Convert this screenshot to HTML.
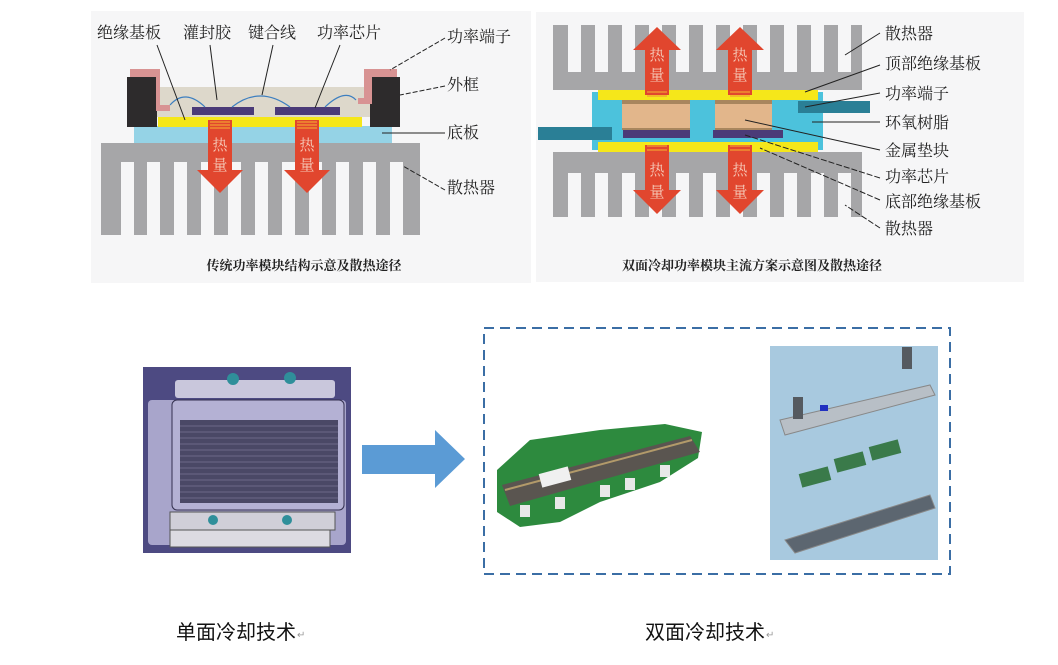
<!DOCTYPE html>
<html><head><meta charset="utf-8"><style>
html,body{margin:0;padding:0;background:#fff;}
svg{display:block;}
text{font-family:"Liberation Serif","Noto Serif CJK SC",serif;}
.s{font-family:"Liberation Sans","Noto Sans CJK SC",sans-serif;}
</style></head><body>
<svg width="1058" height="665" viewBox="0 0 1058 665" xmlns="http://www.w3.org/2000/svg">
<rect width="1058" height="665" fill="#fff"/>
<!-- LEFT PANEL -->
<rect x="91" y="11" width="440" height="272" fill="#f6f6f7"/>
<!-- heatsink -->
<rect x="101" y="143" width="319" height="92" fill="#a6a6a8"/>
<g fill="#f6f6f7">
<rect x="121" y="162" width="13" height="73"/><rect x="147" y="162" width="13" height="73"/><rect x="174" y="162" width="13" height="73"/><rect x="201" y="162" width="13" height="73"/><rect x="228" y="162" width="13" height="73"/><rect x="255" y="162" width="13" height="73"/><rect x="282" y="162" width="13" height="73"/><rect x="309" y="162" width="13" height="73"/><rect x="336" y="162" width="13" height="73"/><rect x="363" y="162" width="13" height="73"/><rect x="390" y="162" width="13" height="73"/>
</g>
<rect x="134" y="126" width="258" height="17" fill="#95d3e6"/>
<rect x="156" y="87" width="216" height="30" fill="#ddd8cb"/>
<rect x="158" y="117" width="204" height="10" fill="#f5e71a"/>
<rect x="127" y="77" width="30" height="50" fill="#2d2b2c"/>
<rect x="370" y="77" width="30" height="50" fill="#2d2b2c"/>
<path d="M130 69 H160 V105 H170 V111 H156 V77 H130Z" fill="#d89393"/>
<path d="M364 69 H397 V77 H372 V104 H358 V98 H364Z" fill="#d89393"/>
<rect x="192" y="107" width="62" height="8" fill="#4b3b78"/>
<rect x="275" y="107" width="65" height="8" fill="#4b3b78"/>
<g fill="none" stroke="#3d7fc0" stroke-width="1.2">
<path d="M170 105 Q185 88 205 107"/><path d="M232 107 Q260 85 290 107"/><path d="M325 107 Q345 88 356 100"/>
</g>
<!-- arrows -->
<g fill="#e1462e">
<path d="M208 120 H232 V170 H243 L220 193 L197 170 H208Z"/>
<path d="M295 120 H319 V170 H330 L307 193 L284 170 H295Z"/>
</g>
<g stroke="#f2a030" stroke-width="1.3"><path d="M210 122H230M210 125H230M210 128H230M297 122H317M297 125H317M297 128H317"/></g>
<g fill="#f5c9b8" font-size="15" text-anchor="middle"><text x="220" y="150">热</text><text x="220" y="170">量</text><text x="307" y="150">热</text><text x="307" y="170">量</text></g>
<g stroke="#222" stroke-width="1" fill="none">
<path d="M157 45 L185 120"/><path d="M210 45 L217 100"/><path d="M273 45 L262 95"/><path d="M340 45 L315 108"/>
<path d="M445 38 L390 70" stroke-dasharray="5 2"/><path d="M445 86 L400 95" stroke-dasharray="5 2"/><path d="M445 133 H382"/><path d="M445 190 L403 166" stroke-dasharray="5 2"/>
</g>
<g font-size="16" fill="#222">
<text x="97" y="38">绝缘基板</text><text x="183" y="38">灌封胶</text><text x="248" y="38">键合线</text><text x="317" y="38">功率芯片</text>
<text x="447" y="42">功率端子</text><text x="447" y="90">外框</text><text x="447" y="138">底板</text><text x="447" y="193">散热器</text>
</g>
<text x="304" y="270" font-size="13" font-weight="bold" text-anchor="middle" fill="#222">传统功率模块结构示意及散热途径</text>

<!-- RIGHT PANEL -->
<rect x="536" y="12" width="488" height="270" fill="#f6f6f7"/>
<rect x="553" y="25" width="309" height="65" fill="#a6a6a8"/>
<rect x="553" y="152" width="309" height="65" fill="#a6a6a8"/>
<g fill="#f6f6f7">
<rect x="568" y="25" width="13" height="47"/><rect x="595" y="25" width="13" height="47"/><rect x="622" y="25" width="13" height="47"/><rect x="649" y="25" width="13" height="47"/><rect x="676" y="25" width="13" height="47"/><rect x="703" y="25" width="13" height="47"/><rect x="730" y="25" width="13" height="47"/><rect x="757" y="25" width="13" height="47"/><rect x="784" y="25" width="13" height="47"/><rect x="811" y="25" width="13" height="47"/><rect x="838" y="25" width="13" height="47"/>
<rect x="568" y="173" width="13" height="44"/><rect x="595" y="173" width="13" height="44"/><rect x="622" y="173" width="13" height="44"/><rect x="649" y="173" width="13" height="44"/><rect x="676" y="173" width="13" height="44"/><rect x="703" y="173" width="13" height="44"/><rect x="730" y="173" width="13" height="44"/><rect x="757" y="173" width="13" height="44"/><rect x="784" y="173" width="13" height="44"/><rect x="811" y="173" width="13" height="44"/><rect x="838" y="173" width="13" height="44"/>
</g>
<rect x="592" y="92" width="231" height="58" fill="#4cc2dc"/>
<rect x="598" y="90" width="220" height="10" fill="#f5e71a"/>
<rect x="598" y="142" width="220" height="10" fill="#f5e71a"/>
<rect x="622" y="100" width="68" height="4" fill="#a8865e"/><rect x="715" y="100" width="57" height="4" fill="#a8865e"/>
<rect x="622" y="104" width="68" height="24" fill="#e2b68b"/><rect x="715" y="104" width="57" height="24" fill="#e2b68b"/>
<rect x="622" y="128" width="68" height="2" fill="#a8865e"/><rect x="715" y="128" width="57" height="2" fill="#a8865e"/>
<rect x="623" y="130" width="67" height="8" fill="#4b3b78"/><rect x="713" y="130" width="70" height="8" fill="#4b3b78"/>
<rect x="538" y="127" width="74" height="13" fill="#2a7f96"/>
<rect x="798" y="101" width="72" height="12" fill="#2a7f96"/>
<g fill="#e1462e">
<path d="M645 95 H669 V50 H681 L657 27 L633 50 H645Z"/>
<path d="M728 95 H752 V50 H764 L740 27 L716 50 H728Z"/>
<path d="M645 145 H669 V190 H681 L657 214 L633 190 H645Z"/>
<path d="M728 145 H752 V190 H764 L740 214 L716 190 H728Z"/>
</g>
<g stroke="#f2a030" stroke-width="1.3"><path d="M647 92H667M647 96H667M730 92H750M730 96H750M647 146H667M647 150H667M730 146H750M730 150H750"/></g>
<g fill="#f5c9b8" font-size="15" text-anchor="middle"><text x="657" y="60">热</text><text x="657" y="80">量</text><text x="740" y="60">热</text><text x="740" y="80">量</text><text x="657" y="175">热</text><text x="657" y="197">量</text><text x="740" y="175">热</text><text x="740" y="197">量</text></g>
<g stroke="#222" stroke-width="1" fill="none">
<path d="M880 33 L845 55"/><path d="M880 65 L805 92"/><path d="M880 93 L805 107"/><path d="M880 122 H812"/><path d="M880 150 L745 120"/>
<path d="M880 178 L745 135" stroke-dasharray="6 2"/><path d="M880 200 L760 148" stroke-dasharray="6 2"/><path d="M880 228 L845 205" stroke-dasharray="6 2"/>
</g>
<g font-size="16" fill="#222">
<text x="885" y="39">散热器</text><text x="885" y="69">顶部绝缘基板</text><text x="885" y="99">功率端子</text><text x="885" y="128">环氧树脂</text><text x="885" y="156">金属垫块</text><text x="885" y="182">功率芯片</text><text x="885" y="207">底部绝缘基板</text><text x="885" y="234">散热器</text>
</g>
<text x="752" y="270" font-size="13" font-weight="bold" text-anchor="middle" fill="#222">双面冷却功率模块主流方案示意图及散热途径</text>

<!-- BOTTOM LEFT IMAGE -->
<rect x="143" y="367" width="208" height="186" fill="#4d4a82"/>
<rect x="148" y="400" width="198" height="145" fill="#a8a5cb" rx="4"/>
<rect x="175" y="380" width="160" height="18" fill="#c9c7dc" rx="3"/>
<circle cx="233" cy="379" r="6" fill="#2f8f9a"/><circle cx="290" cy="378" r="6" fill="#2f8f9a"/>
<rect x="172" y="400" width="172" height="110" fill="#b4b1d4" stroke="#33304f" rx="5"/>
<rect x="180" y="420" width="158" height="83" fill="#4a4866"/>
<g stroke="#8a88a8" stroke-width="0.8" opacity="0.7">
<path d="M180 426H338M180 432H338M180 438H338M180 444H338M180 450H338M180 456H338M180 462H338M180 468H338M180 474H338M180 480H338M180 486H338M180 492H338M180 498H338"/>
</g>
<rect x="170" y="512" width="165" height="18" fill="#d0cfd8" stroke="#555"/>
<rect x="170" y="530" width="160" height="17" fill="#dcdbe2" stroke="#555"/>
<circle cx="213" cy="520" r="5" fill="#2f8f9a"/><circle cx="287" cy="520" r="5" fill="#2f8f9a"/>
<!-- arrow -->
<path d="M362 445 H435 V430 L465 459 L435 488 V474 H362Z" fill="#5b9bd5"/>
<!-- dashed box -->
<rect x="484" y="328" width="466" height="246" fill="none" stroke="#3b6ea5" stroke-width="2" stroke-dasharray="10 6"/>
<!-- module -->
<path d="M497 470 L530 440 L600 430 L665 424 L702 432 L698 458 L660 482 L600 502 L560 522 L520 527 L497 512Z" fill="#2d8a3e"/>
<path d="M502 485 L690 436 L700 452 L510 506Z" fill="#5a5550"/>
<path d="M505 490 L692 440" stroke="#b29a6a" stroke-width="2"/>
<rect x="540" y="470" width="30" height="14" fill="#f0f0f0" transform="rotate(-15 555 477)"/>
<g fill="#e8e8e8"><rect x="520" y="505" width="10" height="12"/><rect x="555" y="497" width="10" height="12"/><rect x="600" y="485" width="10" height="12"/><rect x="625" y="478" width="10" height="12"/><rect x="660" y="465" width="10" height="12"/></g>
<!-- right image -->
<rect x="770" y="346" width="168" height="214" fill="#a8c9df"/>
<path d="M780 420 L930 385 L935 395 L785 435Z" fill="#b8bfc6" stroke="#888"/>
<rect x="793" y="397" width="10" height="22" fill="#555a60"/><rect x="902" y="347" width="10" height="22" fill="#555a60"/>
<rect x="820" y="405" width="8" height="6" fill="#2030c0"/>
<g fill="#3a7a4a"><rect x="800" y="470" width="30" height="14" transform="rotate(-15 815 477)"/><rect x="835" y="455" width="30" height="14" transform="rotate(-15 850 462)"/><rect x="870" y="443" width="30" height="14" transform="rotate(-15 885 450)"/></g>
<path d="M785 540 L930 495 L935 508 L795 553Z" fill="#5c6670" stroke="#888"/>
<!-- labels -->
<g class="s" font-size="20" fill="#111"><text x="176" y="639" class="s">单面冷却技术</text><text x="645" y="639" class="s">双面冷却技术</text></g>
<g class="s" font-size="10" fill="#999"><text x="297" y="638">↵</text><text x="766" y="638">↵</text></g>
</svg>
</body></html>
